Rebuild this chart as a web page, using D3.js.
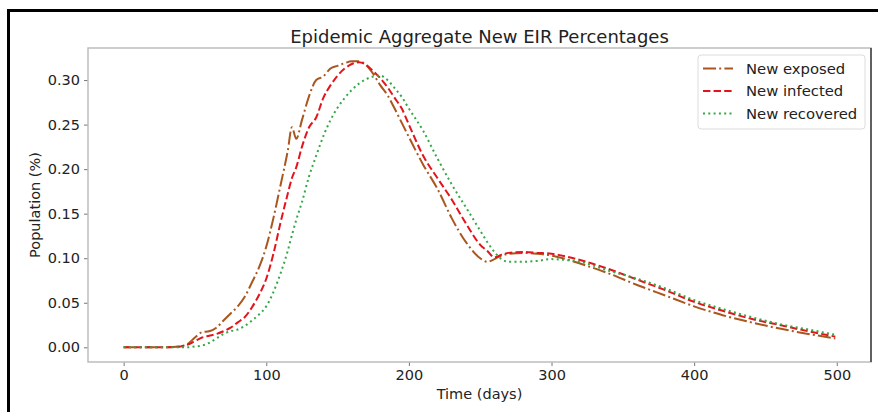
<!DOCTYPE html>
<html>
<head>
<meta charset="UTF-8">
<title>Epidemic Aggregate New EIR Percentages</title>
<script src="https://cdnjs.cloudflare.com/ajax/libs/d3/7.8.5/d3.min.js"></script>
<style>
  body { margin: 0; background: #fff; }
  text { font-family: "DejaVu Sans", sans-serif; fill: #222; }
</style>
</head>
<body>
<script>
// time samples (days)
var days = [0, 10, 20, 30, 40, 45, 50, 55, 60, 65, 70, 75, 80, 85, 90, 95, 100, 105, 110, 115,
            118, 121, 125, 130, 135, 140, 145, 150, 155, 160, 165, 170, 175, 180, 185, 190, 195, 200,
            210, 220, 230, 240, 250, 255, 260, 265, 270, 280, 290, 300, 310, 320, 340, 360, 380,
            400, 420, 440, 460, 480, 499];

var newExposed = [0, 0, 0, 0, 0.001, 0.004, 0.011, 0.017, 0.018, 0.022, 0.030, 0.038, 0.046, 0.057, 0.073, 0.090, 0.113, 0.145, 0.182, 0.220,
                  0.247, 0.234, 0.255, 0.282, 0.300, 0.304, 0.313, 0.316, 0.319, 0.321, 0.321, 0.317, 0.307, 0.294, 0.283, 0.268, 0.252, 0.236,
                  0.205, 0.178, 0.145, 0.118, 0.100, 0.096, 0.099, 0.103, 0.105, 0.106, 0.105, 0.103, 0.099, 0.094, 0.083, 0.070, 0.058,
                  0.046, 0.036, 0.028, 0.021, 0.015, 0.010];

var newInfected = [0, 0, 0, 0, 0.001, 0.003, 0.007, 0.011, 0.013, 0.015, 0.018, 0.022, 0.028, 0.034, 0.045, 0.059, 0.077, 0.105, 0.140, 0.172,
                   0.190, 0.202, 0.225, 0.247, 0.258, 0.280, 0.294, 0.305, 0.313, 0.318, 0.320, 0.317, 0.310, 0.302, 0.292, 0.280, 0.268, 0.250,
                   0.215, 0.190, 0.166, 0.139, 0.115, 0.108, 0.101, 0.104, 0.106, 0.107, 0.106, 0.105, 0.102, 0.098, 0.088, 0.076, 0.064,
                   0.051, 0.041, 0.032, 0.025, 0.018, 0.012];

var newRecovered = [0, 0, 0, 0, 0, 0, 0.001, 0.002, 0.005, 0.010, 0.015, 0.018, 0.020, 0.024, 0.030, 0.037, 0.046, 0.062, 0.083, 0.108,
                    0.126, 0.143, 0.163, 0.192, 0.215, 0.237, 0.255, 0.269, 0.280, 0.289, 0.296, 0.301, 0.304, 0.305, 0.300, 0.291, 0.281, 0.268,
                    0.243, 0.212, 0.183, 0.157, 0.131, 0.118, 0.107, 0.099, 0.096, 0.096, 0.097, 0.099, 0.098, 0.096, 0.086, 0.077, 0.066,
                    0.053, 0.043, 0.034, 0.026, 0.020, 0.014];

var xTicks = [0, 100, 200, 300, 400, 500];
var yTicks = [0, 0.05, 0.10, 0.15, 0.20, 0.25, 0.30];

var seriesNames = ["New exposed", "New infected", "New recovered"];
var seriesValues = [newExposed, newInfected, newRecovered];
var seriesColors = ["#a9561f", "#e3141c", "#34a844"];
var seriesDash = ["13,3.2,2,3.2", "7.4,3.2", "2,3.3"];

var W = 878, H = 412;
var pL = 88, pR = 871, pT = 48, pB = 362;

var svg = d3.select("body").append("svg")
    .attr("width", W)
    .attr("height", H);

// outer frame (top + left only)
svg.append("line").attr("x1", 8).attr("x2", W).attr("y1", 10.5).attr("y2", 10.5)
    .attr("stroke", "#000").attr("stroke-width", 3);
svg.append("line").attr("x1", 8.5).attr("x2", 8.5).attr("y1", 9).attr("y2", H)
    .attr("stroke", "#000").attr("stroke-width", 3);

var x = d3.scaleLinear().domain([-25, 524]).range([pL, pR]);
var y = d3.scaleLinear().domain([-0.0165, 0.336]).range([pB, pT]);

// axes
var gx = svg.append("g")
    .attr("transform", "translate(0," + pB + ")")
    .call(d3.axisBottom(x).tickValues(xTicks).tickSize(4).tickPadding(4).tickFormat(d3.format("d")));
var gy = svg.append("g")
    .attr("transform", "translate(" + pL + ",0)")
    .call(d3.axisLeft(y).tickValues(yTicks).tickSize(4).tickPadding(4).tickFormat(d3.format(".2f")));

[gx, gy].forEach(function(g) {
    g.select(".domain").remove();
    g.selectAll(".tick line").attr("stroke", "#777");
    g.selectAll(".tick text").style("font-size", "14.5px").style("font-family", "DejaVu Sans").attr("fill", "#222");
});

// spines
svg.append("rect")
    .attr("x", pL).attr("y", pT)
    .attr("width", pR - pL).attr("height", pB - pT)
    .attr("fill", "none").attr("stroke", "#bdbdbd").attr("stroke-width", 1.5);
svg.append("line").attr("x1", pR).attr("x2", pR).attr("y1", pT).attr("y2", pB)
    .attr("stroke", "#555").attr("stroke-width", 1.8);

// lines
var line = d3.line()
    .x(function(d) { return x(d[0]); })
    .y(function(d) { return y(d[1]); })
    .curve(d3.curveMonotoneX);

seriesValues.forEach(function(vals, i) {
    var pts = days.map(function(d, j) { return [d, vals[j]]; });
    svg.append("path")
        .datum(pts)
        .attr("d", line)
        .attr("fill", "none")
        .attr("stroke", seriesColors[i])
        .attr("stroke-width", 2)
        .attr("stroke-dasharray", seriesDash[i]);
});

// title and labels
svg.append("text")
    .attr("x", (pL + pR) / 2).attr("y", 43)
    .attr("text-anchor", "middle")
    .style("font-size", "18px")
    .text("Epidemic Aggregate New EIR Percentages");

svg.append("text")
    .attr("x", (pL + pR) / 2).attr("y", 399)
    .attr("text-anchor", "middle")
    .style("font-size", "14.5px")
    .text("Time (days)");

svg.append("text")
    .attr("transform", "translate(40," + ((pT + pB) / 2) + ") rotate(-90)")
    .attr("text-anchor", "middle")
    .style("font-size", "14.5px")
    .text("Population (%)");

// legend
var lg = svg.append("g");
lg.append("rect")
    .attr("x", 698).attr("y", 55)
    .attr("width", 167).attr("height", 74)
    .attr("rx", 3)
    .attr("fill", "#fff").attr("fill-opacity", 0.85)
    .attr("stroke", "#dcdcdc");

seriesNames.forEach(function(name, i) {
    var ly = 68.5 + i * 22.5;
    lg.append("line")
        .attr("x1", 703).attr("x2", 733)
        .attr("y1", ly).attr("y2", ly)
        .attr("stroke", seriesColors[i])
        .attr("stroke-width", 2)
        .attr("stroke-dasharray", seriesDash[i]);
    lg.append("text")
        .attr("x", 746).attr("y", ly + 5)
        .style("font-size", "14.8px")
        .text(name);
});
</script>
</body>
</html>
